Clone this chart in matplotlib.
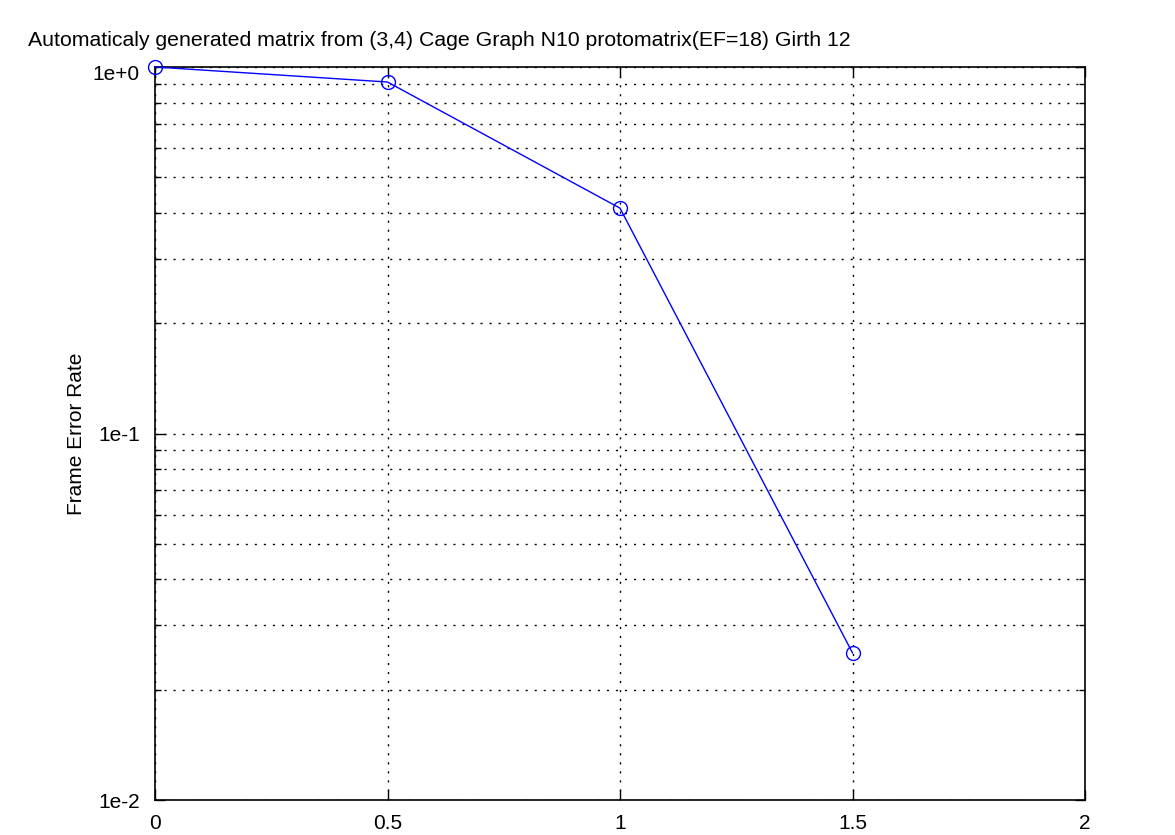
import numpy as np
import matplotlib
matplotlib.use("Agg")
import matplotlib.pyplot as plt
import matplotlib.transforms as mtransforms
from matplotlib.ticker import FixedLocator, LogLocator, NullFormatter

# 数据
snr = [0, 0.5, 1, 1.5]
fer = [1.0, 0.91, 0.412, 0.0252]
x_ticks = [0, 0.5, 1, 1.5, 2]
x_labels = ["0", "0.5", "1", "1.5", "2"]
y_ticks = [1e-2, 1e-1, 1e0]
y_labels = ["1e-2", "1e-1", "1e+0"]

plt.rcParams['font.family'] = ['Liberation Sans', 'DejaVu Sans']

fig = plt.figure(figsize=(11.75, 8.35), dpi=100)
ax = fig.add_axes([155 / 1175, 1 - 800 / 835, 930 / 1175, 733 / 835])

ax.plot(snr, fer, color='blue', linewidth=1, marker='o', markersize=10,
        markerfacecolor='none', markeredgecolor='blue', markeredgewidth=1,
        clip_on=False, zorder=5)

ax.set_yscale('log')
ax.set_xlim(0, 2)
ax.set_ylim(1e-2, 1)
ax.set_xticks(x_ticks)
ax.set_xticklabels(x_labels, fontsize=15)
ax.yaxis.set_major_locator(FixedLocator(y_ticks))
ax.set_yticklabels(y_labels, fontsize=15)
ax.yaxis.set_minor_locator(LogLocator(base=10, subs=np.arange(2, 10)))
ax.yaxis.set_minor_formatter(NullFormatter())

ax.tick_params(which='both', direction='in', top=True, right=True)
ax.tick_params(which='major', length=7, width=1)
ax.tick_params(which='minor', length=4, width=1)
ax.tick_params(axis='x', pad=10)
ax.tick_params(axis='y', pad=11)

# 顶部标签稍微往下移（原图如此）
top_lbl = ax.get_yticklabels()[-1]
top_lbl.set_transform(top_lbl.get_transform() +
                      mtransforms.ScaledTranslation(0, -6 / 100, fig.dpi_scale_trans))

ax.grid(True, which='major', axis='both', color='black', linestyle=(0, (1.5, 5)), linewidth=1)
ax.grid(True, which='minor', axis='y', color='black', linestyle=(0, (1.5, 5)), linewidth=1)

for s in ax.spines.values():
    s.set_linewidth(1.2)

ax.set_ylabel("Frame Error Rate", fontsize=15, labelpad=5)
fig.text(28 / 1175, 1 - 40 / 835, "Automaticaly generated matrix from (3,4) Cage Graph N10 protomatrix(EF=18) Girth 12",
         fontsize=15.3, ha='left', va='center')

fig.savefig("out.png", dpi=100)
